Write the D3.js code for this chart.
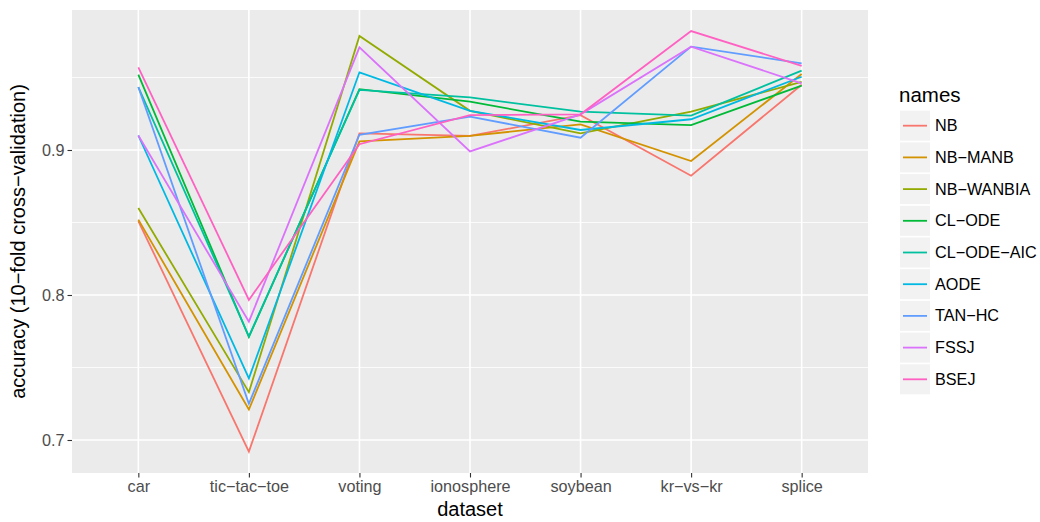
<!DOCTYPE html>
<html><head><meta charset="utf-8">
<script src="https://cdn.jsdelivr.net/npm/d3@7"></script>
<style>body{margin:0;background:#fff}svg{display:block}text{font-family:"Liberation Sans",Arial,sans-serif}</style>
</head><body><svg id="c" width="1040" height="522"></svg>
<script>
const datasets = ["car","tic\u2212tac\u2212toe","voting","ionosphere","soybean","kr\u2212vs\u2212kr","splice"];
const names = ["NB","NB\u2212MANB","NB\u2212WANBIA","CL\u2212ODE","CL\u2212ODE\u2212AIC","AODE","TAN\u2212HC","FSSJ","BSEJ"];
const colors = ["#F8766D","#D39200","#93AA00","#00BA38","#00C19F","#00B9E3","#619CFF","#DB72FB","#FF61C3"];
const NB        = [0.851,0.692,0.9115,0.9097,0.924,0.8823,0.945];
const NB_MANB   = [0.852,0.721,0.9060,0.9097,0.9177,0.8924,0.9524];
const NB_WANBIA = [0.860,0.733,0.9786,0.927,0.9115,0.9264,0.9470];
const CL_ODE    = [0.952,0.771,0.9420,0.9333,0.9196,0.9172,0.9444];
const CL_ODE_AIC= [0.9434,0.7715,0.9415,0.9363,0.9264,0.9237,0.9547];
const AODE      = [0.910,0.7425,0.9536,0.927,0.9138,0.9212,0.9505];
const TAN_HC    = [0.9434,0.725,0.9105,0.923,0.9085,0.9713,0.9598];
const FSSJ      = [0.910,0.7816,0.9708,0.899,0.9246,0.9713,0.946];
const BSEJ      = [0.957,0.7966,0.9040,0.924,0.9246,0.982,0.958];
const series = [NB,NB_MANB,NB_WANBIA,CL_ODE,CL_ODE_AIC,AODE,TAN_HC,FSSJ,BSEJ];
const yTicks = [0.7,0.8,0.9];
const yMinor = [0.75,0.85,0.95];

const svg = d3.select("#c");
const L=72, R=868, T=10, B=473;
const x = d3.scalePoint().domain(datasets).range([L,R]).padding(0.6);
const y = d3.scaleLinear().domain([0.9-323/1450, 0.9+140/1450]).range([B,T]);

svg.append("rect").attr("x",L).attr("y",T).attr("width",R-L).attr("height",B-T).attr("fill","#EBEBEB");
const g = svg.append("g");
g.selectAll(".ymin").data(yMinor).enter().append("line")
  .attr("x1",L).attr("x2",R).attr("y1",d=>y(d)).attr("y2",d=>y(d)).attr("stroke","#fff").attr("stroke-width",0.8);
g.selectAll(".ymaj").data(yTicks).enter().append("line")
  .attr("x1",L).attr("x2",R).attr("y1",d=>y(d)).attr("y2",d=>y(d)).attr("stroke","#fff").attr("stroke-width",1.6);
g.selectAll(".xmaj").data(datasets).enter().append("line")
  .attr("x1",d=>x(d)).attr("x2",d=>x(d)).attr("y1",T).attr("y2",B).attr("stroke","#fff").attr("stroke-width",1.6);

const line = d3.line().x((d,i)=>x(datasets[i])).y(d=>y(d));
series.forEach((s,i)=>{
  svg.append("path").attr("d",line(s)).attr("fill","none").attr("stroke",colors[i]).attr("stroke-width",1.8).attr("stroke-linejoin","miter");
});

// axes
const yAxis = svg.append("g").attr("transform",`translate(${L},0)`)
  .call(d3.axisLeft(y).tickValues(yTicks).tickSize(4.5).tickPadding(3).tickFormat(d3.format(".1f")));
const xAxis = svg.append("g").attr("transform",`translate(0,${B})`)
  .call(d3.axisBottom(x).tickSize(4.5).tickPadding(3));
[yAxis,xAxis].forEach(a=>{
  a.select(".domain").remove();
  a.selectAll(".tick line").attr("stroke","#333").attr("stroke-width",1.1);
  a.selectAll(".tick text").attr("fill","#4D4D4D").attr("font-size",16.2).attr("font-family","Liberation Sans, Arial, sans-serif");
});

svg.append("text").attr("x",(L+R)/2).attr("y",516).attr("text-anchor","middle")
  .attr("font-size",20).attr("fill","#000").text("dataset");
svg.append("text").attr("transform",`translate(25,${(T+B)/2}) rotate(-90)`).attr("text-anchor","middle")
  .attr("font-size",20).attr("fill","#000").text("accuracy (10\u2212fold cross\u2212validation)");

// legend
const lg = svg.append("g").attr("transform","translate(900,0)");
lg.append("text").attr("x",-1).attr("y",102).attr("font-size",20.5).attr("fill","#000").text("names");
names.forEach((n,i)=>{
  const yy = 110.7 + i*31.7;
  lg.append("rect").attr("x",0).attr("y",yy).attr("width",30).attr("height",30).attr("fill","#F2F2F2");
  lg.append("line").attr("x1",3).attr("x2",27).attr("y1",yy+15).attr("y2",yy+15).attr("stroke",colors[i]).attr("stroke-width",1.8);
  lg.append("text").attr("x",35).attr("y",yy+20.5).attr("font-size",16.2).attr("fill","#000").text(n);
});
</script></body></html>
